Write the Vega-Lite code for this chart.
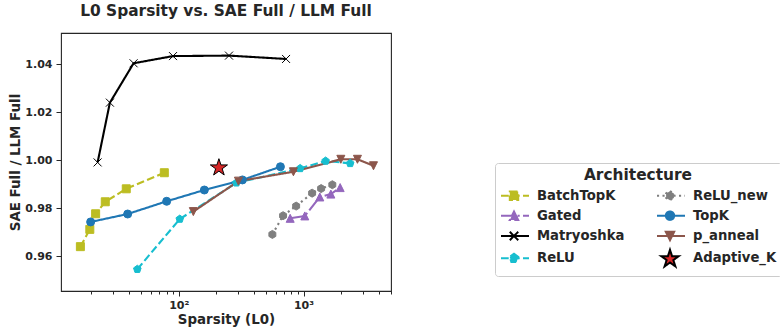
{
  "$schema": "https://vega.github.io/schema/vega-lite/v6.json",
  "width": 330,
  "height": 258,
  "autosize": {"type": "none"},
  "padding": {"left": 61, "top": 33, "right": 389, "bottom": 42},
  "title": {"text": "L0 Sparsity vs. SAE Full / LLM Full", "fontSize": 15.4, "font": "DejaVu Sans", "fontWeight": "bold", "color": "#262626", "anchor": "middle", "offset": 13.5},
  "config": {
    "view": {"stroke": "#262626", "strokeWidth": 1.1},
    "axis": {"domain": false, "grid": false, "labelFont": "DejaVu Sans", "labelFontWeight": "bold", "labelFontSize": 11, "labelColor": "#262626", "titleFont": "DejaVu Sans", "titleFontWeight": "bold", "titleFontSize": 13.4, "titleColor": "#262626", "tickColor": "#262626", "tickWidth": 1, "tickSize": 5},
    "legend": {"title": "Architecture", "orient": "none", "legendX": 434, "legendY": 130, "columns": 2, "columnPadding": 28, "rowPadding": 0.3, "gridAlign": "each", "symbolSize": 400, "symbolStrokeWidth": 2, "labelOffset": 15, "padding": 5, "titlePadding": 1, "titleAnchor": "middle", "strokeColor": "#cccccc", "fillColor": "#ffffff", "cornerRadius": 3, "titleFontSize": 15.4, "titleFont": "DejaVu Sans", "titleFontWeight": "bold", "titleColor": "#262626", "labelFontSize": 13.2, "labelFont": "DejaVu Sans", "labelFontWeight": "bold", "labelColor": "#262626"}
  },
  "data": {"values": [
    {"arch": "BatchTopK", "l0": 16.3, "score": 0.9639},
    {"arch": "BatchTopK", "l0": 19.4, "score": 0.9711},
    {"arch": "BatchTopK", "l0": 21.6, "score": 0.9776},
    {"arch": "BatchTopK", "l0": 25.8, "score": 0.9826},
    {"arch": "BatchTopK", "l0": 38.0, "score": 0.9880},
    {"arch": "BatchTopK", "l0": 76.7, "score": 0.9947},
    {"arch": "Gated", "l0": 782, "score": 0.9757},
    {"arch": "Gated", "l0": 1024, "score": 0.9767},
    {"arch": "Gated", "l0": 1351, "score": 0.9846},
    {"arch": "Gated", "l0": 1656, "score": 0.9858},
    {"arch": "Gated", "l0": 1966, "score": 0.9885},
    {"arch": "Matryoshka", "l0": 22.4, "score": 0.9990},
    {"arch": "Matryoshka", "l0": 28.1, "score": 1.0239},
    {"arch": "Matryoshka", "l0": 43.5, "score": 1.0403},
    {"arch": "Matryoshka", "l0": 90, "score": 1.0433},
    {"arch": "Matryoshka", "l0": 253, "score": 1.0435},
    {"arch": "Matryoshka", "l0": 725, "score": 1.0421},
    {"arch": "ReLU", "l0": 46.6, "score": 0.9545},
    {"arch": "ReLU", "l0": 102, "score": 0.9754},
    {"arch": "ReLU", "l0": 290, "score": 0.9905},
    {"arch": "ReLU", "l0": 940, "score": 0.9965},
    {"arch": "ReLU", "l0": 1503, "score": 0.9996},
    {"arch": "ReLU", "l0": 2365, "score": 0.9986},
    {"arch": "ReLU_new", "l0": 563, "score": 0.9690},
    {"arch": "ReLU_new", "l0": 686, "score": 0.9768},
    {"arch": "ReLU_new", "l0": 873, "score": 0.9808},
    {"arch": "ReLU_new", "l0": 1172, "score": 0.9862},
    {"arch": "ReLU_new", "l0": 1384, "score": 0.9881},
    {"arch": "ReLU_new", "l0": 1702, "score": 0.9897},
    {"arch": "TopK", "l0": 19.7, "score": 0.9742},
    {"arch": "TopK", "l0": 39.0, "score": 0.9775},
    {"arch": "TopK", "l0": 80.1, "score": 0.9828},
    {"arch": "TopK", "l0": 160.5, "score": 0.9875},
    {"arch": "TopK", "l0": 324, "score": 0.9917},
    {"arch": "TopK", "l0": 653, "score": 0.9972},
    {"arch": "p_anneal", "l0": 131, "score": 0.9785},
    {"arch": "p_anneal", "l0": 301, "score": 0.9912},
    {"arch": "p_anneal", "l0": 830, "score": 0.9951},
    {"arch": "p_anneal", "l0": 1991, "score": 1.0003},
    {"arch": "p_anneal", "l0": 2705, "score": 1.0003},
    {"arch": "p_anneal", "l0": 3637, "score": 0.9976},
    {"arch": "Adaptive_K", "l0": 210, "score": 0.9968}
  ]},
  "encoding": {
    "y": {"field": "score", "type": "quantitative", "scale": {"domain": [0.94542, 1.05292], "nice": false, "zero": false}, "axis": {"values": [0.96, 0.98, 1.0, 1.02, 1.04], "format": ".2f", "title": "SAE Full / LLM Full", "labelPadding": 4, "titlePadding": 2}}
  },
  "layer": [
    {
      "mark": {"type": "line", "strokeWidth": 2.1},
      "encoding": {
        "x": {"field": "l0", "type": "quantitative", "scale": {"type": "log", "domain": [11.4, 5024], "nice": false},
          "axis": {"orient": "bottom", "values": [100, 1000], "labelExpr": "datum.value == 100 ? '10²' : '10³'", "title": "Sparsity (L0)", "tickSize": 5, "labelPadding": 3, "titlePadding": 2}},
        "stroke": {"field": "arch", "type": "nominal", "legend": null,
          "scale": {"domain": ["BatchTopK", "Gated", "Matryoshka", "ReLU", "ReLU_new", "TopK", "p_anneal", "Adaptive_K"], "range": ["#bcbd22", "#9467bd", "#000000", "#17becf", "#7f7f7f", "#1f77b4", "#8c564b", "#d62728"]}},
        "strokeDash": {"field": "arch", "type": "nominal", "legend": null,
          "scale": {"domain": ["BatchTopK", "Gated", "Matryoshka", "ReLU", "ReLU_new", "TopK", "p_anneal", "Adaptive_K"], "range": [[7.7, 3.3], [13.3, 3.3, 2.1, 3.3], [1, 0], [7.7, 3.3], [2.1, 3.4], [1, 0], [1, 0], [1, 0]]}}
      }
    },
    {
      "mark": {"type": "point", "filled": true, "opacity": 1, "strokeWidth": 1},
      "encoding": {
        "x": {"field": "l0", "type": "quantitative",
          "axis": {"orient": "bottom", "values": [20, 30, 40, 50, 60, 70, 80, 90, 200, 300, 400, 500, 600, 700, 800, 900, 2000, 3000, 4000, 5000], "labels": false, "title": null, "tickSize": 3}},
        "color": {"field": "arch", "type": "nominal", "legend": null,
          "scale": {"domain": ["BatchTopK", "Gated", "Matryoshka", "ReLU", "ReLU_new", "TopK", "p_anneal", "Adaptive_K"], "range": ["#bcbd22", "#9467bd", "#000000", "#17becf", "#7f7f7f", "#1f77b4", "#8c564b", "#d62728"]}},
        "shape": {"field": "arch", "type": "nominal", "legend": null,
          "scale": {"domain": ["BatchTopK", "Gated", "Matryoshka", "ReLU", "ReLU_new", "TopK", "p_anneal", "Adaptive_K"],
            "range": ["square", "M0,-1L1,1L-1,1Z", "M-1,-1L1,1M-1,1L1,-1", "M0,-1L0.9511,-0.309L0.5878,0.809L-0.5878,0.809L-0.9511,-0.309Z", "M0,-1L0.866,-0.5L0.866,0.5L0,1L-0.866,0.5L-0.866,-0.5Z", "circle", "M0,1L1,-1L-1,-1Z", "M0,-1L0.2245,-0.309L0.9511,-0.309L0.3633,0.118L0.5878,0.809L0,0.382L-0.5878,0.809L-0.3633,0.118L-0.9511,-0.309L-0.2245,-0.309Z"]}},
        "stroke": {"field": "arch", "type": "nominal", "legend": null,
          "scale": {"domain": ["BatchTopK", "Gated", "Matryoshka", "ReLU", "ReLU_new", "TopK", "p_anneal", "Adaptive_K"], "range": ["#bcbd22", "#9467bd", "#000000", "#17becf", "#7f7f7f", "#1f77b4", "#8c564b", "#000000"]}},
        "size": {"condition": {"test": "datum.arch === 'Adaptive_K'", "value": 324}, "value": 64}
      }
    },
    {
      "transform": [{"filter": "false"}],
      "mark": {"type": "point", "filled": true, "opacity": 1},
      "encoding": {
        "x": {"field": "l0", "type": "quantitative", "axis": null},
        "color": {"field": "arch", "type": "nominal", "legend": {"title": "Architecture"},
          "scale": {"domain": ["BatchTopK", "Gated", "Matryoshka", "ReLU", "ReLU_new", "TopK", "p_anneal", "Adaptive_K"], "range": ["#bcbd22", "#9467bd", "#000000", "#17becf", "#7f7f7f", "#1f77b4", "#8c564b", "#d62728"]}},
        "stroke": {"field": "arch", "type": "nominal", "legend": {"title": "Architecture"},
          "scale": {"domain": ["BatchTopK", "Gated", "Matryoshka", "ReLU", "ReLU_new", "TopK", "p_anneal", "Adaptive_K"], "range": ["#bcbd22", "#9467bd", "#000000", "#17becf", "#7f7f7f", "#1f77b4", "#8c564b", "#000000"]}},
        "strokeDash": {"field": "arch", "type": "nominal", "legend": {"title": "Architecture"},
          "scale": {"domain": ["BatchTopK", "Gated", "Matryoshka", "ReLU", "ReLU_new", "TopK", "p_anneal", "Adaptive_K"], "range": [[7.7, 3.3], [13.3, 3.3, 2.1, 3.3], [1, 0], [7.7, 3.3], [2.1, 3.4], [1, 0], [1, 0], [1, 0]]}},
        "shape": {"field": "arch", "type": "nominal", "legend": {"title": "Architecture"},
          "scale": {"domain": ["BatchTopK", "Gated", "Matryoshka", "ReLU", "ReLU_new", "TopK", "p_anneal", "Adaptive_K"],
            "range": ["M-1,0H1.8M-0.12,-0.42H0.72V0.42H-0.12Z", "M-1,0H1.8M0.3,-0.42L0.72,0.42L-0.12,0.42Z", "M-1,0H1.8M-0.12,-0.42L0.72,0.42M-0.12,0.42L0.72,-0.42", "M-1,0H1.8M0.3,-0.45L0.728,-0.139L0.5645,0.364L0.0355,0.364L-0.128,-0.139Z", "M-1,0H1.8M0.3,-0.45L0.69,-0.225L0.69,0.225L0.3,0.45L-0.09,0.225L-0.09,-0.225Z", "M-1,0H1.8M0.72,0A0.42,0.42 0 1,1 -0.12,0A0.42,0.42 0 1,1 0.72,0Z", "M-1,0H1.8M0.3,0.42L0.72,-0.42L-0.12,-0.42Z", "M0.3,-0.85L0.5065,-0.2143L1.175,-0.2143L0.6342,0.1786L0.8408,0.8143L0.3,0.4214L-0.2408,0.8143L-0.0342,0.1786L-0.575,-0.2143L0.0935,-0.2143Z"]}}
      }
    }
  ],
  "resolve": {"axis": {"x": "independent"}, "scale": {"color": "independent", "stroke": "independent", "strokeDash": "independent", "shape": "independent"}}
}
